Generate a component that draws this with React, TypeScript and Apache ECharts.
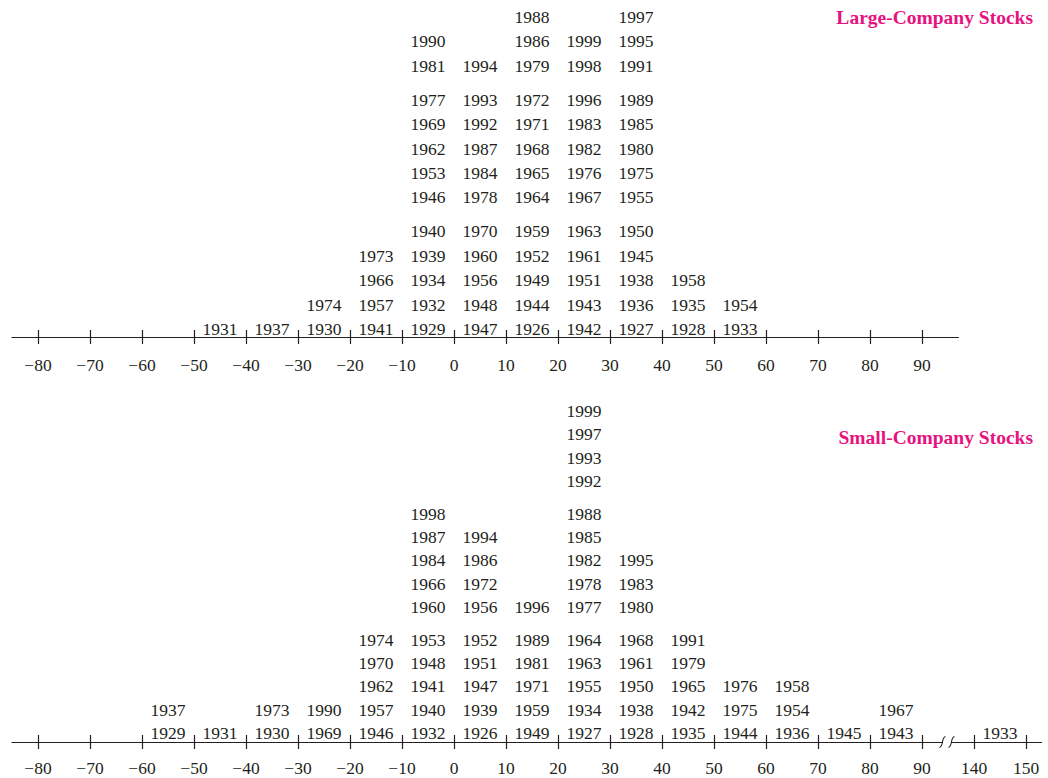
import React, { useEffect, useRef } from 'react';
import * as echarts from 'echarts';

// ---------- data ----------
const largeBinStarts = [-50, -40, -30, -20, -10, 0, 10, 20, 30, 40, 50];
const largeYears: number[][] = [
  [1931],
  [1937],
  [1930, 1974],
  [1941, 1957, 1966, 1973],
  [1929, 1932, 1934, 1939, 1940, 1946, 1953, 1962, 1969, 1977, 1981, 1990],
  [1947, 1948, 1956, 1960, 1970, 1978, 1984, 1987, 1992, 1993, 1994],
  [1926, 1944, 1949, 1952, 1959, 1964, 1965, 1968, 1971, 1972, 1979, 1986, 1988],
  [1942, 1943, 1951, 1961, 1963, 1967, 1976, 1982, 1983, 1996, 1998, 1999],
  [1927, 1936, 1938, 1945, 1950, 1955, 1975, 1980, 1985, 1989, 1991, 1995, 1997],
  [1928, 1935, 1958],
  [1933, 1954],
];

const smallBinStarts = [-60, -50, -40, -30, -20, -10, 0, 10, 20, 30, 40, 50, 60, 70, 80, 140];
const smallYears: number[][] = [
  [1929, 1937],
  [1931],
  [1930, 1973],
  [1969, 1990],
  [1946, 1957, 1962, 1970, 1974],
  [1932, 1940, 1941, 1948, 1953, 1960, 1966, 1984, 1987, 1998],
  [1926, 1939, 1947, 1951, 1952, 1956, 1972, 1986, 1994],
  [1949, 1959, 1971, 1981, 1989, 1996],
  [1927, 1934, 1955, 1963, 1964, 1977, 1978, 1982, 1985, 1988, 1992, 1993, 1997, 1999],
  [1928, 1938, 1950, 1961, 1968, 1980, 1983, 1995],
  [1935, 1942, 1965, 1979, 1991],
  [1944, 1975, 1976],
  [1936, 1954, 1958],
  [1945],
  [1943, 1967],
  [1933],
];

const largeTicks = [-80, -70, -60, -50, -40, -30, -20, -10, 0, 10, 20, 30, 40, 50, 60, 70, 80, 90];
const smallTicks = [-80, -70, -60, -50, -40, -30, -20, -10, 0, 10, 20, 30, 40, 50, 60, 70, 80, 90, 140, 150];

const binWidth = 10;
const breakFrom = 90;
const breakTo = 140;

const titleLarge = 'Large-Company Stocks';
const titleSmall = 'Small-Company Stocks';

// ---------- helpers ----------
const FONT = "'Liberation Serif', 'Times New Roman', Times, serif";
const INK = '#231f20';
const MAGENTA = '#E6137F';

// axis break: values >= breakTo are shifted so the gap occupies one bin
const toAxis = (v: number) => (v >= breakTo ? v - (breakTo - breakFrom) + binWidth : v);
const fromAxis = (a: number) => (a >= breakFrom + binWidth ? a + (breakTo - breakFrom) - binWidth : a);
const fmt = (v: number) => (v < 0 ? '\u2212' + Math.abs(v) : String(v));
// stacked rows, grouped by fives with a small extra gap
const rowY = (r: number) => r + 0.4 * Math.floor(r / 5);

function buildPoints(starts: number[], years: number[][]) {
  const pts: number[][] = [];
  starts.forEach((s, i) => {
    years[i].forEach((yr, r) => {
      pts.push([toAxis(s) + binWidth / 2, rowY(r), yr]);
    });
  });
  return pts;
}

const renderYear = (params: any, api: any) => {
  const p = api.coord([api.value(0), api.value(1)]);
  return {
    type: 'text',
    x: p[0],
    y: p[1],
    style: {
      text: String(api.value(2)),
      align: 'center',
      verticalAlign: 'middle',
      fill: INK,
      fontFamily: FONT,
      fontSize: 17.5,
    },
  };
};

const Y_TOP = { min: -0.33, max: 12.8 };
const Y_BOT = { min: -0.39, max: 13.8 };

function xAxes(gridIndex: number, min: number, max: number, ticks: number[], margin: number) {
  const tv = ticks.map(toAxis);
  return [
    {
      gridIndex,
      type: 'value',
      min,
      max,
      position: 'bottom',
      splitLine: { show: false },
      axisLine: { show: true, onZero: false, lineStyle: { color: INK, width: 1.2 } },
      axisTick: { show: true, customValues: tv, length: 7, inside: false, lineStyle: { color: INK, width: 1.2 } },
      axisLabel: {
        show: true,
        customValues: tv,
        margin,
        formatter: (v: number) => fmt(fromAxis(v)),
        color: INK,
        fontFamily: FONT,
        fontSize: 17.5,
      },
    },
    {
      gridIndex,
      type: 'value',
      min,
      max,
      position: 'bottom',
      offset: 0,
      splitLine: { show: false },
      axisLine: { show: false, onZero: false },
      axisTick: { show: true, customValues: tv, length: 7, inside: true, lineStyle: { color: INK, width: 1.2 } },
      axisLabel: { show: false },
    },
  ];
}

export default function App() {
  const ref = useRef<HTMLDivElement>(null);
  useEffect(() => {
    if (!ref.current) return;
    const chart = echarts.init(ref.current, null, { renderer: 'svg' });
    const titleStyle = { color: MAGENTA, fontFamily: FONT, fontWeight: 'bold', fontSize: 19.5 };
    const option: any = {
      animation: false,
      backgroundColor: '#ffffff',
      title: [
        { text: titleLarge, right: 15, top: 7, padding: 0, textStyle: titleStyle },
        { text: titleSmall, right: 15, top: 427, padding: 0, textStyle: titleStyle },
      ],
      grid: [
        { left: 12, top: 17, width: 946.4, height: 320, outerBoundsMode: 'none', containLabel: false },
        { left: 12, top: 411, width: 1029.6, height: 331, outerBoundsMode: 'none', containLabel: false },
      ],
      xAxis: [...xAxes(0, -85, 97, largeTicks, 19), ...xAxes(1, -85, 113, smallTicks, 16.5)],
      yAxis: [
        { gridIndex: 0, type: 'value', min: Y_TOP.min, max: Y_TOP.max, show: false },
        { gridIndex: 1, type: 'value', min: Y_BOT.min, max: Y_BOT.max, show: false },
      ],
      series: [
        {
          type: 'custom',
          name: titleLarge,
          coordinateSystem: 'cartesian2d',
          xAxisIndex: 0,
          yAxisIndex: 0,
          clip: false,
          encode: { x: 0, y: 1 },
          renderItem: renderYear,
          data: buildPoints(largeBinStarts, largeYears),
        },
        {
          type: 'custom',
          name: titleSmall,
          coordinateSystem: 'cartesian2d',
          xAxisIndex: 2,
          yAxisIndex: 1,
          clip: false,
          encode: { x: 0, y: 1 },
          renderItem: renderYear,
          data: buildPoints(smallBinStarts, smallYears),
        },
      ],
    };
    chart.setOption(option);

    // axis break marks on the lower axis
    const mid = breakFrom + binWidth / 2 - 0.2;
    const bx = chart.convertToPixel({ xAxisIndex: 2 } as any, mid) as unknown as number;
    const by = chart.convertToPixel({ yAxisIndex: 1 } as any, Y_BOT.min) as unknown as number;
    const mark = (cx: number) => ({
      type: 'bezierCurve',
      z: 101,
      shape: {
        x1: cx - 3, y1: by + 5.5,
        cpx1: cx + 1.5, cpy1: by + 4,
        cpx2: cx - 1.5, cpy2: by - 4,
        x2: cx + 3, y2: by - 5.5,
      },
      style: { stroke: INK, lineWidth: 1.1, fill: 'none' },
    });
    chart.setOption({
      graphic: [
        { type: 'rect', z: 100, shape: { x: bx - 4.5, y: by - 3, width: 9, height: 6 }, style: { fill: '#ffffff' } },
        mark(bx - 4.5),
        mark(bx + 4.5),
      ],
    });

    return () => chart.dispose();
  }, []);
  return (
    <div
      ref={ref}
      style={{ position: 'absolute', left: 0, top: 0, width: 1048, height: 778 }}
    />
  );
}
